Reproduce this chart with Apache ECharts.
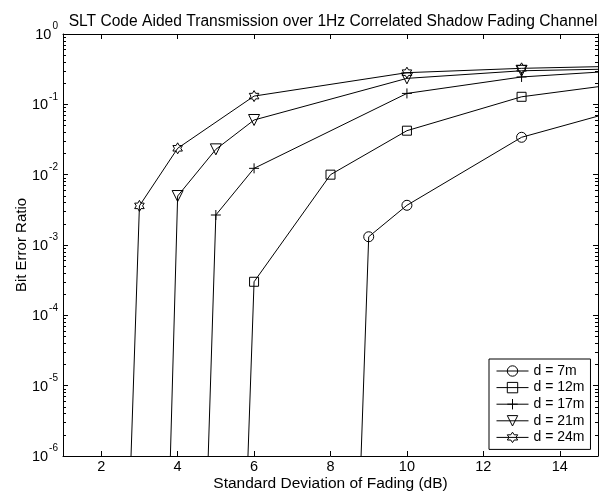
<!DOCTYPE html>
<html><head><meta charset="utf-8">
<script src="https://cdn.jsdelivr.net/npm/echarts@6/dist/echarts.min.js"></script>
<style>html,body{margin:0;padding:0;background:#fff}#c{width:600px;height:492px}</style>
</head><body><div id="c"></div>
<script>
// ---- data ----
const xTicks = [2, 4, 6, 8, 10, 12, 14];
const seriesNames = ['d = 7m', 'd = 12m', 'd = 17m', 'd = 21m', 'd = 24m'];
// first point = where the curve crosses the 1e-6 floor, last point = where it leaves the plot at x = 15
const d7_x  = [8.80, 9, 10, 13, 15];
const d7_y  = [1e-6, 1.31e-3, 3.67e-3, 0.034, 0.068];
const d12_x = [5.84, 6, 8, 10, 13, 15];
const d12_y = [1e-6, 3.0e-4, 0.0100, 0.0422, 0.128, 0.178];
const d17_x = [4.80, 5, 6, 10, 13, 15];
const d17_y = [1e-6, 2.67e-3, 0.0123, 0.143, 0.245, 0.287];
const d21_x = [3.81, 4, 5, 6, 10, 13, 15];
const d21_y = [1e-6, 4.97e-3, 0.0229, 0.0599, 0.234, 0.300, 0.315];
const d24_x = [2.78, 3, 4, 6, 10, 13, 15];
const d24_y = [1e-6, 3.6e-3, 0.0237, 0.131, 0.282, 0.325, 0.343];

const FONT = '"Liberation Sans", Arial, Helvetica, sans-serif';

// minor tick positions (2..9 x 10^e) expressed in log10 space for a helper value axis
const minorLog = [];
for (let e = -6; e < 0; e++) for (let k = 2; k <= 9; k++) minorLog.push(Math.log10(k * Math.pow(10, e)));

function hexagram() {
  let p = '';
  for (let i = 0; i < 12; i++) {
    const a = -Math.PI / 2 + i * Math.PI / 6;
    const r = i % 2 === 0 ? 10 : 10 / Math.sqrt(3);
    p += (i ? 'L' : 'M') + (r * Math.cos(a)).toFixed(3) + ',' + (r * Math.sin(a)).toFixed(3);
  }
  return 'path://' + p + 'Z';
}
const PLUS = 'path://M5,0L5,10M0,5L10,5';

function mk(name, xs, ys, symbol, size, rotate) {
  const data = xs.map((x, i) => {
    const it = { value: [x, ys[i]] };
    if (i === 0 || i === xs.length - 1) it.symbol = 'none';
    return it;
  });
  return {
    name, type: 'line', data, symbol, symbolSize: size, symbolRotate: rotate || 0,
    symbolKeepAspect: true, clip: true, xAxisIndex: 0, yAxisIndex: 0,
    lineStyle: { color: '#000', width: 1 },
    itemStyle: { color: 'rgba(0,0,0,0)', borderColor: '#000', borderWidth: 1 },
    emphasis: { disabled: true }, z: 3
  };
}

const chart = echarts.init(document.getElementById('c'), null, { renderer: 'canvas' });
const minorAxis = (pos) => ({
  type: 'value', min: -6, max: 0, position: pos, show: true,
  axisLine: { show: false },
  axisTick: { show: true, inside: true, length: 3, customValues: minorLog, lineStyle: { color: '#000', width: 1 } },
  axisLabel: { show: false }, splitLine: { show: false }
});
chart.setOption({
  animation: false,
  backgroundColor: '#fff',
  title: {
    text: 'SLT Code Aided Transmission over 1Hz Correlated Shadow Fading Channel',
    left: 328, textAlign: 'center', top: 9,
    textStyle: { fontFamily: FONT, fontSize: 15.6, fontWeight: 'normal', color: '#000' }
  },
  grid: { left: 63, right: 2, top: 34, bottom: 36, containLabel: false, outerBoundsMode: 'none' },
  legend: {
    orient: 'vertical', left: 489, top: 359,
    data: seriesNames,
    backgroundColor: '#fff', borderColor: '#000', borderWidth: 1, borderRadius: 0,
    padding: [5, 6, 5, 7], itemGap: 2.6, itemWidth: 32, itemHeight: 13,
    textStyle: { fontFamily: FONT, fontSize: 14, color: '#000', padding: [0, 0, 0, 0] },
    itemStyle: { color: 'rgba(0,0,0,0)', borderColor: '#000', borderWidth: 1 },
    lineStyle: { color: '#000', width: 1 },
    selectedMode: false
  },
  xAxis: [
    {
      type: 'value', min: 1, max: 15, position: 'bottom',
      axisLine: { show: true, onZero: false, lineStyle: { color: '#000', width: 1 } },
      axisTick: { show: true, inside: true, length: 5, customValues: xTicks, lineStyle: { color: '#000' } },
      axisLabel: { show: true, customValues: xTicks, margin: 3, fontFamily: FONT, fontSize: 14.5, color: '#000' },
      splitLine: { show: false },
      name: 'Standard Deviation of Fading (dB)', nameLocation: 'middle', nameGap: 20, nameMoveOverlap: false,
      nameTextStyle: { fontFamily: FONT, fontSize: 15.5, color: '#000' }
    },
    {
      type: 'value', min: 1, max: 15, position: 'top',
      axisLine: { show: true, onZero: false, lineStyle: { color: '#000', width: 1 } },
      axisTick: { show: true, inside: true, length: 5, customValues: xTicks, lineStyle: { color: '#000' } },
      axisLabel: { show: false }, splitLine: { show: false }
    }
  ],
  yAxis: [
    {
      type: 'log', logBase: 10, min: 1e-6, max: 1, position: 'left',
      axisLine: { show: true, onZero: false, lineStyle: { color: '#000', width: 1 } },
      axisTick: { show: true, inside: true, length: 5, lineStyle: { color: '#000' } },
      axisLabel: {
        margin: 5,
        formatter: v => '{b|10}{s|' + Math.round(Math.log10(v)) + '}',
        rich: {
          b: { fontFamily: FONT, fontSize: 14.5, color: '#000', lineHeight: 17, verticalAlign: 'bottom' },
          s: { fontFamily: FONT, fontSize: 10, color: '#000', lineHeight: 11, verticalAlign: 'bottom', padding: [0, 0, 11, 1] }
        }
      },
      splitLine: { show: false },
      name: 'Bit Error Ratio', nameLocation: 'middle', nameGap: 34, nameMoveOverlap: false,
      nameTextStyle: { fontFamily: FONT, fontSize: 15, color: '#000' }
    },
    minorAxis('left'),
    {
      type: 'log', logBase: 10, min: 1e-6, max: 1, position: 'right',
      axisLine: { show: true, onZero: false, lineStyle: { color: '#000', width: 1 } },
      axisTick: { show: true, inside: true, length: 5, lineStyle: { color: '#000' } },
      axisLabel: { show: false }, splitLine: { show: false }
    },
    minorAxis('right')
  ],
  series: [
    mk(seriesNames[0], d7_x, d7_y, 'circle', 10),
    mk(seriesNames[1], d12_x, d12_y, 'rect', 9),
    mk(seriesNames[2], d17_x, d17_y, PLUS, 10),
    mk(seriesNames[3], d21_x, d21_y, 'triangle', 11, 180),
    mk(seriesNames[4], d24_x, d24_y, hexagram(), 11)
  ]
});
</script>
</body></html>
